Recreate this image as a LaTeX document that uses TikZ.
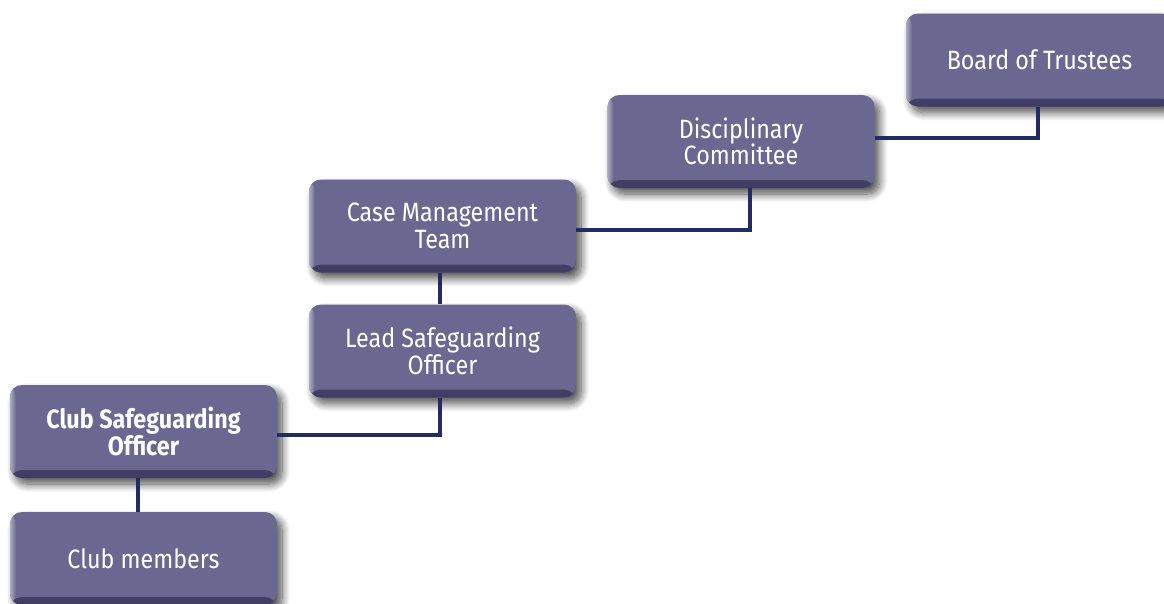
\documentclass[tikz,border=0pt]{standalone}
\usepackage{fontspec}
\setmainfont{Fira Sans}[FakeStretch=0.88]
\usetikzlibrary{calc,shadows.blur}
\definecolor{boxfill}{HTML}{6A6890}
\definecolor{boxedge}{HTML}{3E3C60}
\definecolor{linkcol}{HTML}{222C63}
\tikzset{
  orgbox/.style={draw=none, fill=boxfill, rounded corners=12pt,
    minimum width=267pt, minimum height=93pt, inner sep=0pt,
    text=white, align=center, font=\fontsize{26.5}{26.5}\selectfont,
    blur shadow={shadow xshift=5pt, shadow yshift=-6pt, shadow blur steps=12, shadow blur radius=8pt, shadow opacity=70},
    path picture={
      \shade[top color=boxfill, bottom color=boxedge] ([yshift=8pt]path picture bounding box.south west) rectangle (path picture bounding box.south east);
      \shade[left color=white!45!boxfill, right color=boxfill] (path picture bounding box.south west) rectangle ([xshift=6pt]path picture bounding box.north west);
    }},
  link/.style={draw=linkcol, line width=4.5pt}
}
\begin{document}
\begin{tikzpicture}[x=1pt,y=-1pt]
\useasboundingbox (0,0) rectangle (1164,603);
\clip (0,0) rectangle (1164,603);
\node[orgbox] (cm)  at (143.5,558.5) {Club members};
\node[orgbox, font=\fontsize{26.5}{26.5}\selectfont\bfseries] (cso) at (143.5,431.5) {Club Safeguarding\\Officer};
\node[orgbox] (lso) at (442.5,351) {Lead Safeguarding\\Officer};
\node[orgbox] (cmt) at (442.5,226) {Case Management\\Team};
\node[orgbox] (dc)  at (741,141.5) {Disciplinary\\Committee};
\node[orgbox] (bot) at (1039.5,60) {Board of Trustees};
\draw[link] ($(cso.south)+(-5.5,0)$) -- ($(cm.north)+(-5.5,0)$);
\draw[link] ($(cso.east)+(0,3.5)$) -| ($(lso.south)+(-2.5,0)$);
\draw[link] ($(lso.north)+(-2.5,0)$) -- ($(cmt.south)+(-2.5,0)$);
\draw[link] ($(cmt.east)+(0,4)$) -| ($(dc.south)+(9,0)$);
\draw[link] ($(dc.east)+(0,-3.5)$) -| ($(bot.south)+(-1.5,0)$);
\end{tikzpicture}
\end{document}
